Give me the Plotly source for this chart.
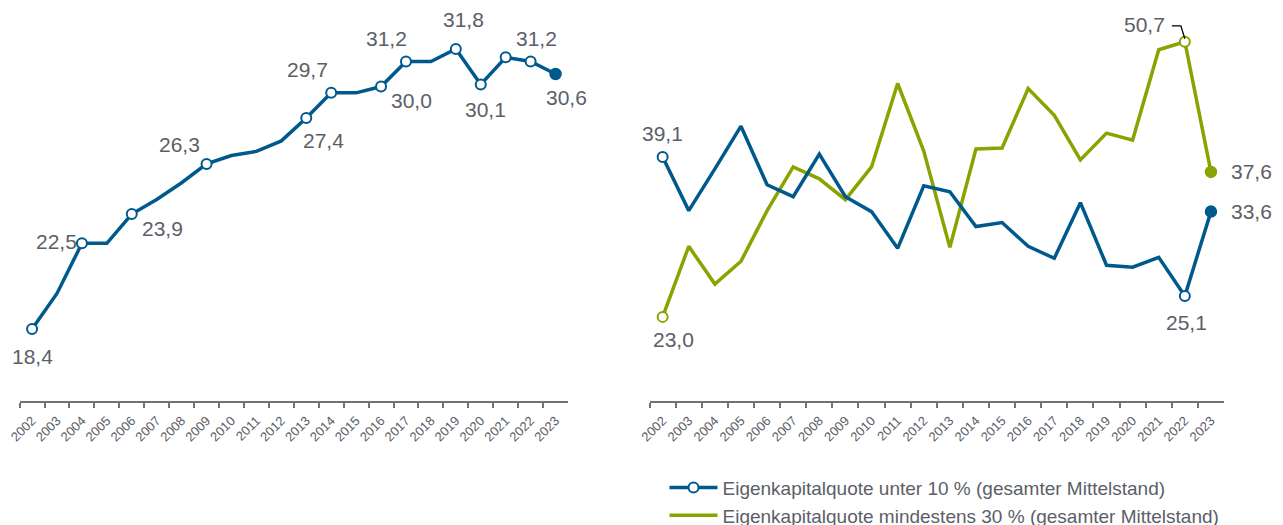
import plotly.graph_objects as go

# ---------------- data ----------------
years = [str(y) for y in range(2002, 2024)]

# left panel: Eigenkapitalquote (gesamter Mittelstand)
gesamt = [18.4, 20.1, 22.5, 22.5, 23.9, 24.6, 25.4, 26.3, 26.7, 26.9, 27.4,
          28.5, 29.7, 29.7, 30.0, 31.2, 31.2, 31.8, 30.1, 31.4, 31.2, 30.6]
gesamt_open_markers = ["2002", "2004", "2006", "2009", "2013", "2014", "2016",
                       "2017", "2019", "2020", "2021", "2022"]
gesamt_filled_markers = ["2023"]
gesamt_label_years = ["2002", "2004", "2006", "2009", "2013", "2014", "2016",
                      "2017", "2019", "2020", "2022", "2023"]
gesamt_label_texts = ["18,4", "22,5", "23,9", "26,3", "27,4", "29,7", "30,0",
                      "31,2", "31,8", "30,1", "31,2", "30,6"]

# right panel
unter10 = [39.1, 33.7, 37.9, 42.2, 36.3, 35.1, 39.4, 35.1, 33.6, 29.9, 36.2,
           35.6, 32.1, 32.5, 30.1, 28.9, 34.5, 28.2, 28.0, 29.0, 25.1, 33.6]
mind30 = [23.0, 30.1, 26.3, 28.6, 33.7, 38.1, 36.9, 34.8, 38.1, 46.5, 39.7,
          30.0, 39.9, 40.0, 46.0, 43.3, 38.8, 41.5, 40.8, 49.9, 50.7, 37.6]
right_open_markers = ["2002", "2022"]
right_filled_markers = ["2023"]
unter10_label_years = ["2002", "2022", "2023"]
unter10_label_texts = ["39,1", "25,1", "33,6"]
mind30_label_years = ["2002", "2022", "2023"]
mind30_label_texts = ["23,0", "50,7", "37,6"]

name_unter10 = "Eigenkapitalquote unter 10 % (gesamter Mittelstand)"
name_mind30 = "Eigenkapitalquote mindestens 30 % (gesamter Mittelstand)"

# ---------------- styles ----------------
BLUE = "#00598c"
GREEN = "#8aa300"
TXT = "#5b6067"
AXIS = "#6f7378"
FONT = "Liberation Sans, Arial, sans-serif"

# label offsets in pixels (dx, dy) -- layout only
gesamt_offsets = [(0, -28), (-25, 2), (31, -14), (-27, 19), (17, -23), (-24, 23),
                  (30, -14), (-19, 23), (8, 29), (5, -25), (6, 23), (11, -23)]
unter10_offsets = [(0, 23), (2, -26), (41, 0)]
mind30_offsets = [(11, -23), (-40, 17), (41, 0)]


def idx(yr):
    return years.index(yr)


def val(series, yr):
    return series[idx(yr)]


fig = go.Figure()

# ---- left panel ----
fig.add_trace(go.Scatter(x=years, y=gesamt, mode="lines", line=dict(color=BLUE, width=3.5),
                         showlegend=False, xaxis="x", yaxis="y", hoverinfo="skip"))
fig.add_trace(go.Scatter(x=gesamt_open_markers, y=[val(gesamt, y) for y in gesamt_open_markers],
                         mode="markers", showlegend=False, xaxis="x", yaxis="y",
                         marker=dict(size=10, color="white", line=dict(color=BLUE, width=2))))
fig.add_trace(go.Scatter(x=gesamt_filled_markers, y=[val(gesamt, y) for y in gesamt_filled_markers],
                         mode="markers", showlegend=False, xaxis="x", yaxis="y",
                         marker=dict(size=11, color=BLUE, line=dict(color=BLUE, width=1.5))))

# ---- right panel ----
fig.add_trace(go.Scatter(x=years, y=mind30, mode="lines", line=dict(color=GREEN, width=3.5),
                         showlegend=False, xaxis="x2", yaxis="y2"))
fig.add_trace(go.Scatter(x=years, y=unter10, mode="lines", line=dict(color=BLUE, width=3.5),
                         showlegend=False, xaxis="x2", yaxis="y2"))
for series, col in ((mind30, GREEN), (unter10, BLUE)):
    fig.add_trace(go.Scatter(x=right_open_markers, y=[val(series, y) for y in right_open_markers],
                             mode="markers", showlegend=False, xaxis="x2", yaxis="y2",
                             marker=dict(size=10, color="white", line=dict(color=col, width=2))))
    fig.add_trace(go.Scatter(x=right_filled_markers, y=[val(series, y) for y in right_filled_markers],
                             mode="markers", showlegend=False, xaxis="x2", yaxis="y2",
                             marker=dict(size=11, color=col, line=dict(color=col, width=1.5))))

# legend entries
fig.add_trace(go.Scatter(x=[None], y=[None], mode="lines+markers", name=name_unter10,
                         line=dict(color=BLUE, width=3.5),
                         marker=dict(size=10, color="white", line=dict(color=BLUE, width=2)),
                         xaxis="x2", yaxis="y2"))
fig.add_trace(go.Scatter(x=[None], y=[None], mode="lines", name=name_mind30,
                         line=dict(color=GREEN, width=3.5), xaxis="x2", yaxis="y2"))

annotations = []


def add_labels(series, lyears, ltexts, offsets, xref, yref):
    for yr, txt, (dx, dy) in zip(lyears, ltexts, offsets):
        annotations.append(dict(x=idx(yr), y=val(series, yr), xref=xref, yref=yref, text=txt,
                                showarrow=False, xshift=dx, yshift=dy,
                                font=dict(family=FONT, size=21, color=TXT)))


add_labels(gesamt, gesamt_label_years, gesamt_label_texts, gesamt_offsets, "x", "y")
add_labels(unter10, unter10_label_years, unter10_label_texts, unter10_offsets, "x2", "y2")
add_labels(mind30, mind30_label_years, mind30_label_texts, mind30_offsets, "x2", "y2")

# leader line for the 50,7 label
fig.add_shape(type="path", xref="x2", yref="y2", xsizemode="pixel", ysizemode="pixel",
              xanchor=idx("2022"), yanchor=val(mind30, "2022"),
              path="M-13,16 L-4,16 L0,3", line=dict(color="black", width=1.3))

xaxis_common = dict(type="category", showline=True, linecolor=AXIS, linewidth=2,
                    ticks="outside", tickson="boundaries", ticklen=5, tickcolor=AXIS,
                    tickwidth=1.5, tickangle=-45, showgrid=False, zeroline=False,
                    automargin=False, ticklabelstandoff=5,
                    tickfont=dict(family=FONT, size=13, color=TXT),
                    range=[-0.5, len(years) - 0.5], fixedrange=True)
yaxis_common = dict(visible=False, showgrid=False, zeroline=False, fixedrange=True,
                    automargin=False)

fig.update_layout(
    width=1283, height=525,
    margin=dict(l=0, r=0, t=0, b=0, autoexpand=False),
    paper_bgcolor="white", plot_bgcolor="white",
    font=dict(family=FONT, color=TXT),
    xaxis=dict(domain=[0.00904, 0.43648], anchor="y", **xaxis_common),
    yaxis=dict(domain=[0.25143, 0.99524], anchor="x", range=[14.955, 33.64], **yaxis_common),
    xaxis2=dict(domain=[0.50008, 0.94778], anchor="y2", **xaxis_common),
    yaxis2=dict(domain=[0.25143, 0.99524], anchor="x2", range=[14.53, 53.85], **yaxis_common),
    annotations=annotations,
    showlegend=True,
    legend=dict(x=0.5117, y=0.1226, xanchor="left", yanchor="top", orientation="v",
                font=dict(family=FONT, size=19, color=TXT), itemwidth=48,
                bgcolor="rgba(0,0,0,0)", tracegroupgap=0),
)

fig.write_html("out.html")
